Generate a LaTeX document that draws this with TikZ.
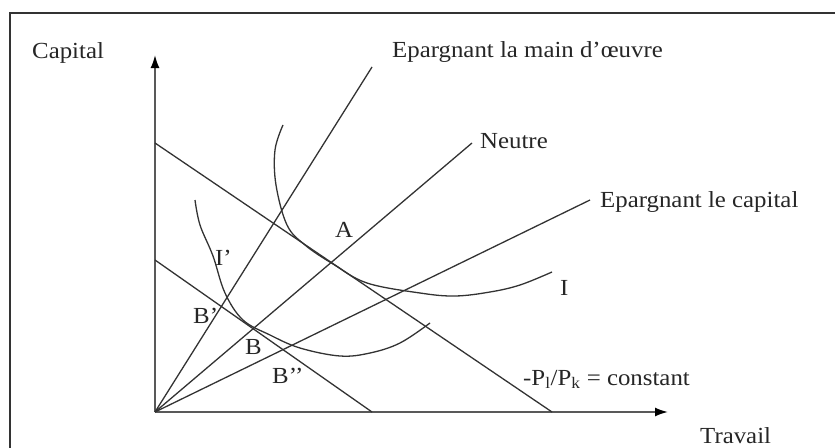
\documentclass[tikz,border=0pt]{standalone}
\usepackage{fontspec}
\setmainfont{Liberation Serif}
\usetikzlibrary{arrows.meta}
\newcommand{\wtxt}[1]{\scalebox{1.08}[1]{#1}}
\begin{document}
\begin{tikzpicture}[x=1pt,y=-1pt,
  lbl/.style={anchor=base west,inner sep=0pt,font=\fontsize{23}{26}\selectfont,text=black!85},
  ray/.style={line width=1.3pt,draw=black!80},
  axis/.style={line width=1.8pt,draw=black!65,-{Latex[length=13pt,width=9pt,black]}},
  frame/.style={line width=2.5pt,draw=black!80}]
\useasboundingbox (0,0) rectangle (835,447);
% frame (left and top edges visible)
\coordinate (f1) at (10,460);
\coordinate (f2) at (10,13);
\coordinate (f3) at (850,13);
\draw[frame] (f1) -- (f2) -- (f3);
% axes
\coordinate (O) at (155,412);
\coordinate (ytop) at (155,55);
\coordinate (xend) at (668,412);
\draw[axis] (O) -- (ytop);
\draw[axis] (O) -- (xend);
% rays
\coordinate (rM) at (372,67);
\coordinate (rN) at (472,143);
\coordinate (rC) at (590,200);
\draw[ray] (O) -- (rM);
\draw[ray] (O) -- (rN);
\draw[ray] (O) -- (rC);
% budget lines
\coordinate (bu1) at (155,143);
\coordinate (bu2) at (552,412);
\coordinate (bl1) at (155,260);
\coordinate (bl2) at (372,412);
\draw[ray] (bu1) -- (bu2);
\draw[ray] (bl1) -- (bl2);
% isoquant I
\draw[ray] plot[smooth,tension=0.6] coordinates {(283,125) (275,150) (276,185) (287,225) (305,245) (333,264) (367,283) (420,293) (455,296) (490,292) (520,285) (552,272)};
% isoquant I'
\draw[ray] plot[smooth,tension=0.6] coordinates {(195,200) (200,225) (213,256) (225,293) (243,320) (270,335) (300,348) (340,356) (370,353) (400,343) (430,323)};
% labels
\node[lbl] (tCap) at (32,58) {\wtxt{Capital}};
\node[lbl] (tMO) at (392,57) {\wtxt{Epargnant la main d’œuvre}};
\node[lbl] (tN) at (480,148) {\wtxt{Neutre}};
\node[lbl] (tEC) at (600,207) {\wtxt{Epargnant le capital}};
\node[lbl] (tI) at (560,295) {\wtxt{I}};
\node[lbl] (tA) at (335,237) {\wtxt{A}};
\node[lbl] (tIp) at (215,265) {\wtxt{I’}};
\node[lbl] (tBp) at (193,323) {\wtxt{B’}};
\node[lbl] (tB) at (245,354) {\wtxt{B}};
\node[lbl] (tBpp) at (272,383) {\wtxt{B’’}};
\node[lbl] (tP) at (523,385) {\wtxt{-P\textsubscript{l}/P\textsubscript{k} = constant}};
\node[lbl] (tT) at (700,443) {\wtxt{Travail}};
\end{tikzpicture}
\end{document}
